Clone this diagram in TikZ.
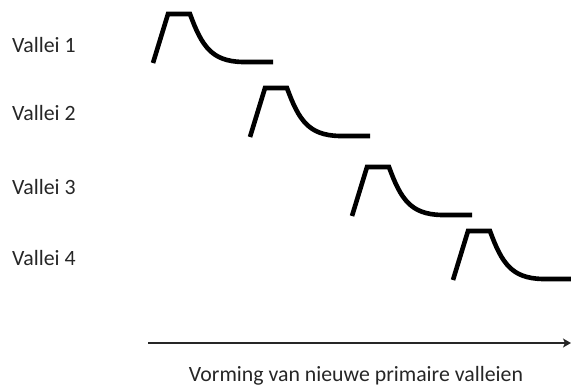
\documentclass[tikz,border=0pt]{standalone}
\usepackage{fontspec}
\setmainfont{Carlito}
\usetikzlibrary{arrows.meta}
\begin{document}
\begin{tikzpicture}[x=1pt,y=-1pt,
  valleitekst/.style={anchor=west,inner sep=0pt,text=black!85,font=\fontsize{21.8}{25}\selectfont},
  profiel/.style={line width=4.6pt,line join=miter,line cap=butt}]
\useasboundingbox (0,0) rectangle (571,388);

% dalprofielen en labels
\foreach \i/\x/\y/\ly in {1/153/63/45, 2/250/137/113, 3/352/216/187, 4/453/280/258} {
  \node (vallei\i) at (12,\ly) [valleitekst] {Vallei \i};
  \draw [profiel] (\x,\y) -- ++(15,-49) -- ++(22,0)
    .. controls ++(12,33) and ++(-30,-1) .. ++(52,48) -- ++(31,0);
}

% tijdas
\coordinate (begin) at (148,343);
\coordinate (eind)  at (571,343);
\draw [-{Stealth[length=8pt,width=9pt,inset=2pt]},line width=1.8pt,black!85] (begin) -- (eind);
\node (as) at (356,376) [valleitekst,anchor=center] {Vorming van nieuwe primaire valleien};
\end{tikzpicture}
\end{document}
